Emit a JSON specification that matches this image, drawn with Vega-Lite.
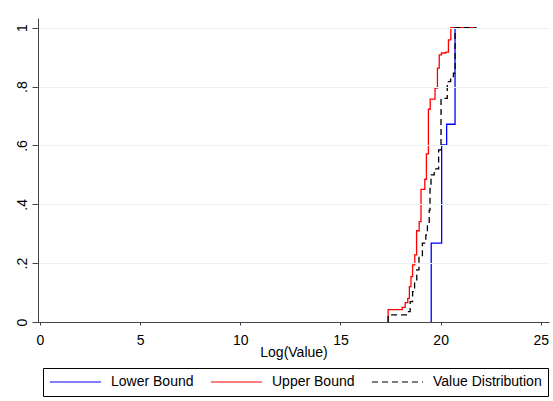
{
  "$schema": "https://vega.github.io/schema/vega-lite/v6.json",
  "autosize": "none",
  "width": 511,
  "height": 304,
  "padding": {"left": 38, "top": 18, "right": 4, "bottom": 79},
  "background": "white",
  "config": {
    "view": {"stroke": null},
    "font": "Liberation Sans",
    "axis": {"labelFont": "Liberation Sans", "titleFont": "Liberation Sans", "labelColor": "#000", "titleColor": "#000", "domainColor": "#444", "tickColor": "#444", "labelFontSize": 14, "titleFontSize": 14, "titleFontWeight": "normal"}
  },
  "data": {"values": [
    {"s": "Lower Bound", "i": 0, "x": 19.53, "y": 0},
    {"s": "Lower Bound", "i": 1, "x": 19.53, "y": 0.268},
    {"s": "Lower Bound", "i": 2, "x": 20.05, "y": 0.602},
    {"s": "Lower Bound", "i": 3, "x": 20.30, "y": 0.672},
    {"s": "Lower Bound", "i": 4, "x": 20.72, "y": 1.0},
    {"s": "Lower Bound", "i": 5, "x": 21.78, "y": 1.0},
    {"s": "Upper Bound", "i": 0, "x": 17.38, "y": 0},
    {"s": "Upper Bound", "i": 1, "x": 17.38, "y": 0.042},
    {"s": "Upper Bound", "i": 2, "x": 18.08, "y": 0.050},
    {"s": "Upper Bound", "i": 3, "x": 18.23, "y": 0.066},
    {"s": "Upper Bound", "i": 4, "x": 18.36, "y": 0.080},
    {"s": "Upper Bound", "i": 5, "x": 18.44, "y": 0.120},
    {"s": "Upper Bound", "i": 6, "x": 18.52, "y": 0.154},
    {"s": "Upper Bound", "i": 7, "x": 18.60, "y": 0.194},
    {"s": "Upper Bound", "i": 8, "x": 18.71, "y": 0.228},
    {"s": "Upper Bound", "i": 9, "x": 18.80, "y": 0.310},
    {"s": "Upper Bound", "i": 10, "x": 18.93, "y": 0.341},
    {"s": "Upper Bound", "i": 11, "x": 19.02, "y": 0.451},
    {"s": "Upper Bound", "i": 12, "x": 19.21, "y": 0.485},
    {"s": "Upper Bound", "i": 13, "x": 19.29, "y": 0.571},
    {"s": "Upper Bound", "i": 14, "x": 19.39, "y": 0.723},
    {"s": "Upper Bound", "i": 15, "x": 19.48, "y": 0.757},
    {"s": "Upper Bound", "i": 16, "x": 19.72, "y": 0.795},
    {"s": "Upper Bound", "i": 17, "x": 19.84, "y": 0.863},
    {"s": "Upper Bound", "i": 18, "x": 19.93, "y": 0.908},
    {"s": "Upper Bound", "i": 19, "x": 20.04, "y": 0.914},
    {"s": "Upper Bound", "i": 20, "x": 20.26, "y": 0.917},
    {"s": "Upper Bound", "i": 21, "x": 20.39, "y": 0.959},
    {"s": "Upper Bound", "i": 22, "x": 20.51, "y": 1.0},
    {"s": "Upper Bound", "i": 23, "x": 21.78, "y": 1.0},
    {"s": "Value Distribution", "i": 0, "x": 17.38, "y": 0},
    {"s": "Value Distribution", "i": 1, "x": 17.38, "y": 0.024},
    {"s": "Value Distribution", "i": 2, "x": 18.35, "y": 0.035},
    {"s": "Value Distribution", "i": 3, "x": 18.48, "y": 0.069},
    {"s": "Value Distribution", "i": 4, "x": 18.60, "y": 0.103},
    {"s": "Value Distribution", "i": 5, "x": 18.70, "y": 0.143},
    {"s": "Value Distribution", "i": 6, "x": 18.81, "y": 0.177},
    {"s": "Value Distribution", "i": 7, "x": 18.92, "y": 0.222},
    {"s": "Value Distribution", "i": 8, "x": 19.09, "y": 0.268},
    {"s": "Value Distribution", "i": 9, "x": 19.26, "y": 0.296},
    {"s": "Value Distribution", "i": 10, "x": 19.34, "y": 0.330},
    {"s": "Value Distribution", "i": 11, "x": 19.43, "y": 0.380},
    {"s": "Value Distribution", "i": 12, "x": 19.47, "y": 0.460},
    {"s": "Value Distribution", "i": 13, "x": 19.52, "y": 0.500},
    {"s": "Value Distribution", "i": 14, "x": 19.68, "y": 0.520},
    {"s": "Value Distribution", "i": 15, "x": 19.90, "y": 0.585},
    {"s": "Value Distribution", "i": 16, "x": 20.02, "y": 0.760},
    {"s": "Value Distribution", "i": 17, "x": 20.33, "y": 0.817},
    {"s": "Value Distribution", "i": 18, "x": 20.50, "y": 0.834},
    {"s": "Value Distribution", "i": 19, "x": 20.64, "y": 0.846},
    {"s": "Value Distribution", "i": 20, "x": 20.72, "y": 1.0},
    {"s": "Value Distribution", "i": 21, "x": 21.78, "y": 1.0}
  ]},
  "mark": {"type": "line", "interpolate": "step-after", "strokeWidth": 1.3},
  "encoding": {
    "x": {"field": "x", "type": "quantitative", "scale": {"domain": [-0.1, 25.41], "nice": false, "zero": false},
      "axis": {"values": [0, 5, 10, 15, 20, 25], "title": "Log(Value)", "grid": false, "tickSize": 3, "labelPadding": 8, "titlePadding": -2, "labelFlush": false, "zindex": 1}},
    "y": {"field": "y", "type": "quantitative", "scale": {"domain": [0, 1.033], "nice": false},
      "axis": {"values": [0, 0.2, 0.4, 0.6, 0.8, 1], "title": null, "grid": true, "gridColor": "#eaf2f3", "tickSize": 6, "labelAngle": -90, "labelPadding": 3, "labelFlush": false, "zindex": 1,
        "labelExpr": "datum.value == 0 ? '0' : datum.value == 1 ? '1' : '.' + format(datum.value * 10, 'd')"}},
    "order": {"field": "i", "type": "quantitative"},
    "color": {"field": "s", "type": "nominal", "title": null,
      "scale": {"domain": ["Lower Bound", "Upper Bound", "Value Distribution"], "range": ["#0000ff", "#ff0000", "#000000"]},
      "legend": {"orient": "none", "legendX": 5, "legendY": 350, "direction": "horizontal", "strokeColor": "#000", "padding": 6,
        "labelFontSize": 14, "labelFont": "Liberation Sans", "labelColor": "#000", "symbolType": "stroke", "symbolSize": 2601, "symbolStrokeWidth": 1.2,
        "labelOffset": 9, "columnPadding": 16, "clipHeight": 16}},
    "strokeDash": {"field": "s", "type": "nominal", "title": null,
      "scale": {"domain": ["Lower Bound", "Upper Bound", "Value Distribution"], "range": [[1, 0], [1, 0], [6, 4]]}}
  }
}
